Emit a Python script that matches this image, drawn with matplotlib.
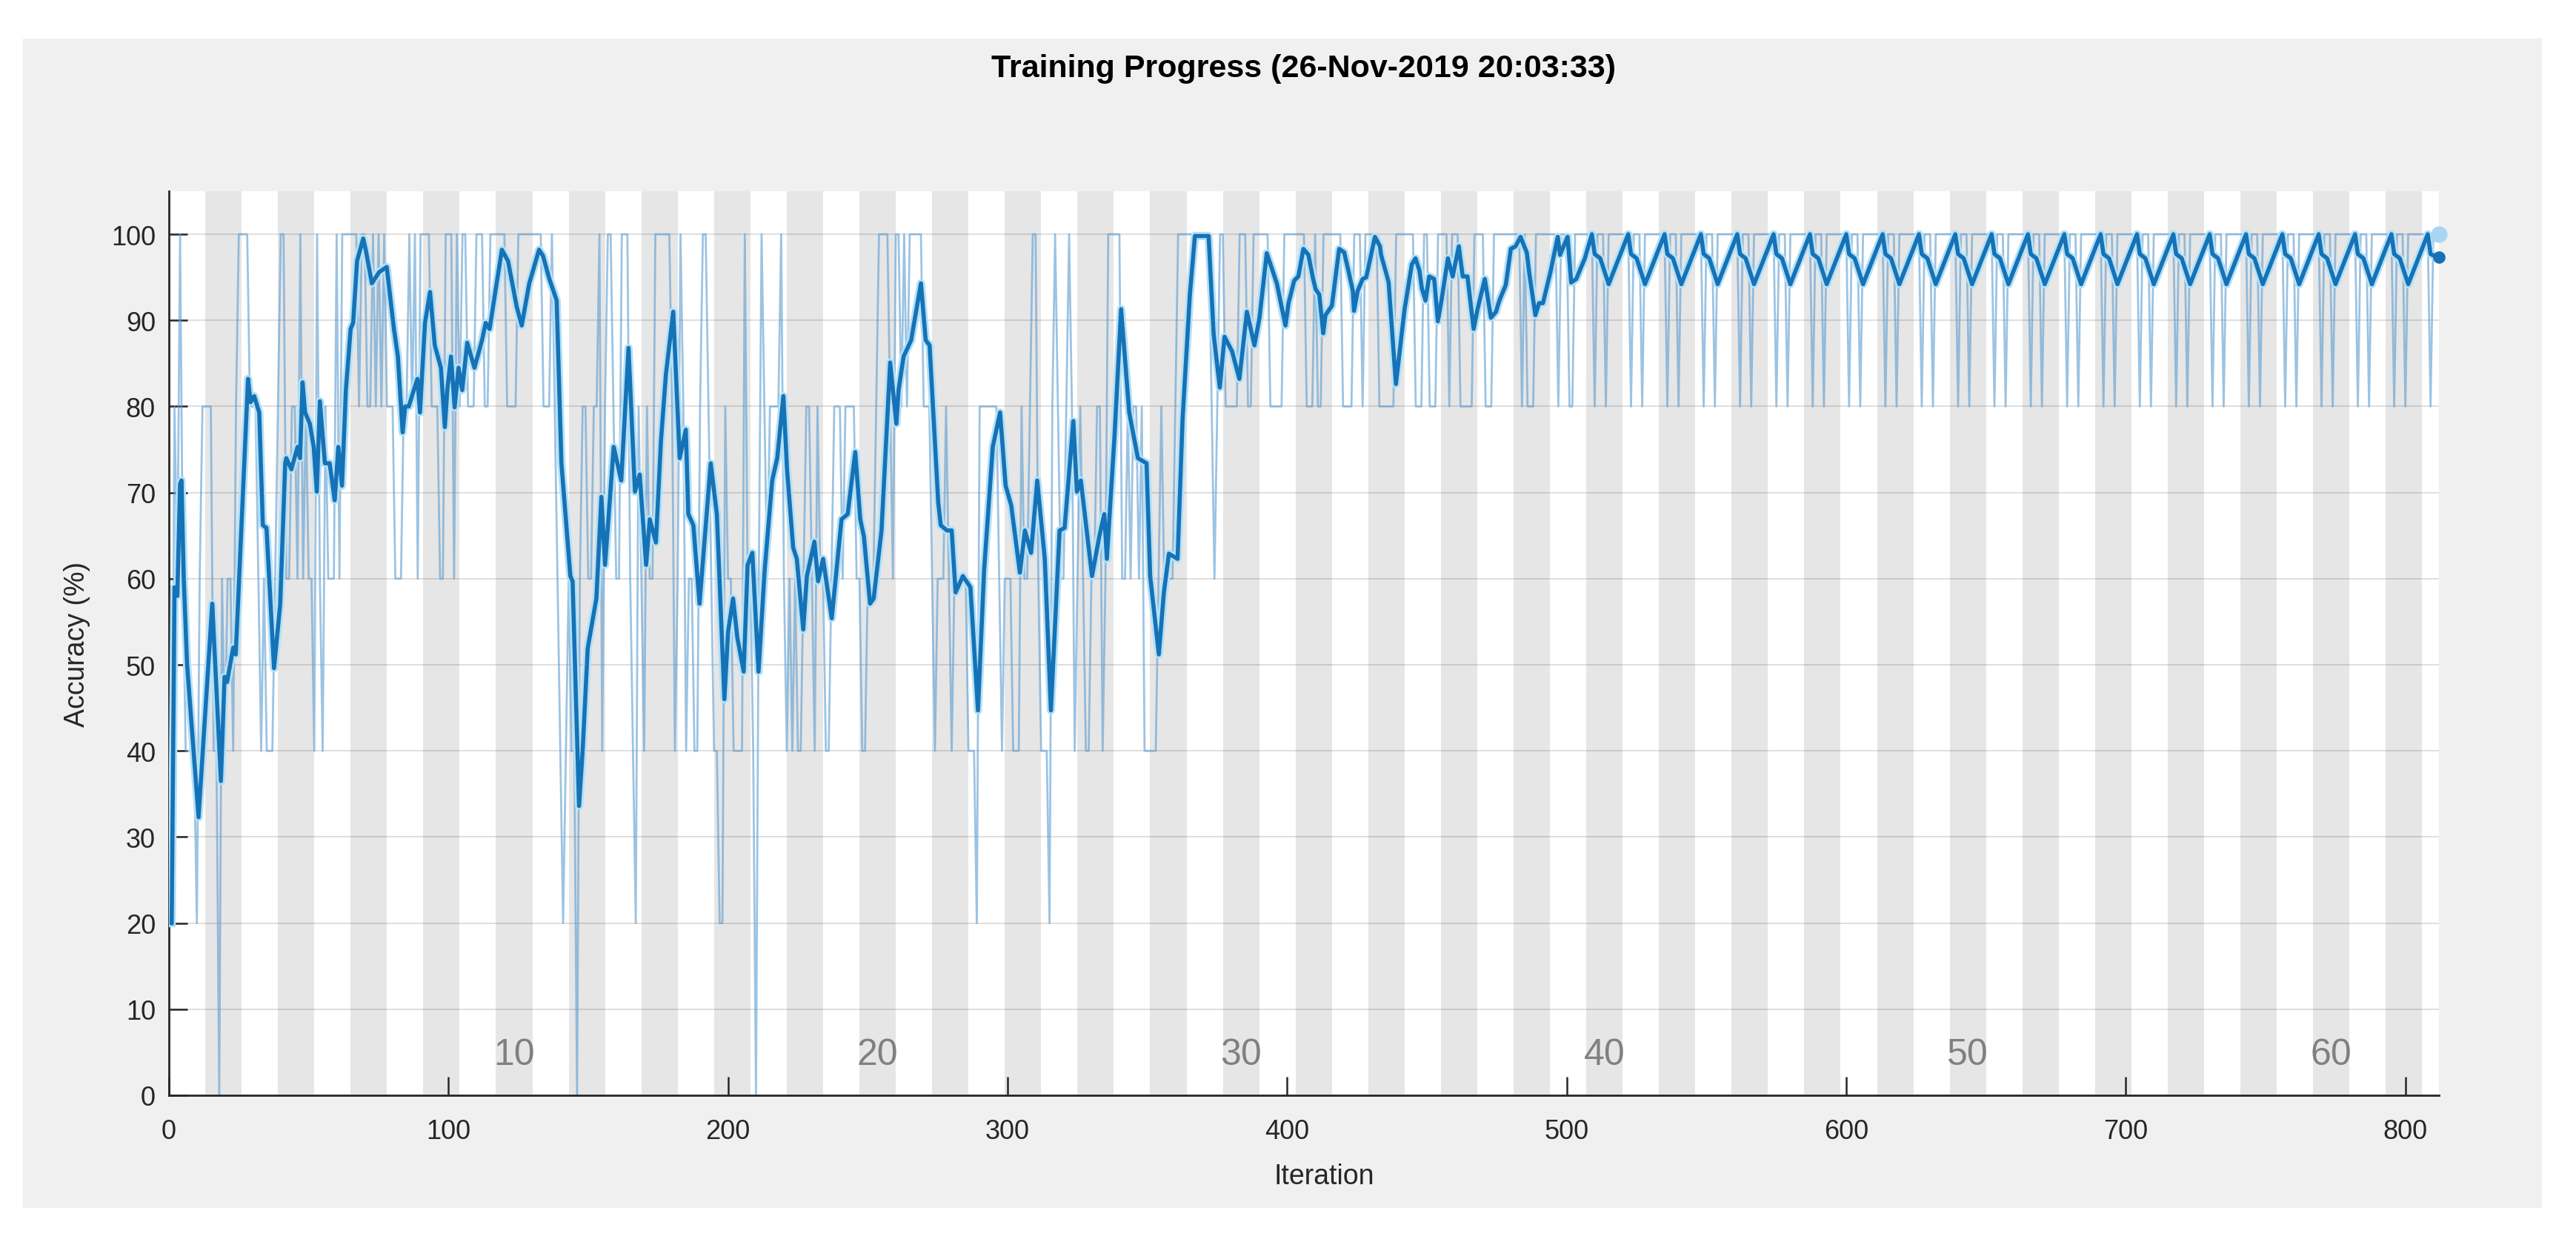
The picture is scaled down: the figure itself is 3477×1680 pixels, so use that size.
import matplotlib
matplotlib.use("Agg")
import matplotlib.pyplot as plt
from matplotlib.patches import Rectangle

# raw mini-batch accuracy, one string per epoch, one digit per iteration (digit*20 = %)
raw_epochs = [
    "1435322221344", "4422032332455", "5544432322234", "5533443534332",
    "5324333535555", "5545544545454", "4433344545355", "5544433555354",
    "5544455544555", "5554444555555", "5554445432123", "2203443344524",
    "5543355532143", "2433555555423", "5423322455432", "2114332222533",
    "2035434444532", "3232234432433", "2234443444433", "2233345555435",
    "5454555554443", "2333432333332", "2214444444323", "3322243345532",
    "2214543345423", "4322334423555", "5533434434222", "2234333345555",
    "5555555543455", "4444455544555", "5554444455555", "5554445445555",
    "5554444555455", "5554444445555", "5554445544455", "5545554444455",
    "5544455555555", "5545444555555", "5545554455555", "5545554555555",
    "5545554555555", "5545554555555", "5545554555555", "5545554555555",
    "5545554555555", "5545554555555", "5545554555555", "5545554555555",
    "5545554555555", "5545554555555", "5545554555555", "5545554555555",
    "5545554555555", "5545554555555", "5545554555555", "5545554555555",
    "5545554555555", "5545554555555", "5545554555555", "5545554555555",
    "5545554555555", "5545554555555", "554555",
]

# smoothed accuracy
smooth_iter = [
    1, 2, 3, 4, 4.5, 5.3, 6.5, 10.6, 15.5, 18.6, 19.9, 20.8, 23, 23.9, 28.3, 29.2,
    30.5, 32.3, 33.6, 34.9, 37.6, 39.8, 41.6, 42, 43.8, 46, 46.9, 47.8, 48.7, 50.4,
    51.8, 52.9, 54, 55.8, 57.5, 59.3, 60.6, 61.9, 63.3, 65, 65.9, 67.3, 69.5, 70.4,
    72.6, 75.2, 77.9, 80.5, 81.9, 83.6, 84.5, 85.8, 87.6, 88.9, 89.8, 91.6, 93.4,
    95.1, 97.3, 98.7, 99.6, 100.9, 102.2, 103.6, 104.9, 106.7, 109.3, 112, 113.3,
    114.7, 116.9, 119.1, 121.3, 124.4, 126.2, 128.9, 132.4, 133.8, 136, 138.7,
    140.4, 143.6, 144.4, 146.7, 148, 149.8, 152.9, 154.7, 156, 159.1, 161.8, 164.4,
    166.7, 168.4, 170.7, 172, 174.2, 176, 177.8, 180.4, 182.7, 184.9, 185.8, 187.6,
    189.8, 193.8, 196, 198.7, 200, 201.8, 203.3, 205.6, 207, 208.7, 210.9, 213.1,
    215.8, 217.6, 219.8, 221.1, 223.3, 224.6, 226.9, 228.2, 230.9, 232.2, 234,
    237.1, 240.6, 242.8, 245.5, 247.3, 248.6, 250.8, 252.1, 254.9, 258, 260.2, 261,
    262.8, 265.5, 269, 270.7, 272.1, 275.2, 276.1, 278.3, 280, 281.4, 284, 286.7,
    289.4, 291.6, 294.7, 297.3, 299.3, 301.3, 304.4, 306.2, 308.4, 310.6, 313.3,
    315.5, 318.6, 320.4, 323.5, 324.8, 326.2, 330.2, 332.8, 334.6, 335.5, 338.2,
    340.6, 343.5, 346.6, 349.7, 351, 354.1, 355.9, 357.7, 360.8, 362.6, 365.2, 367,
    371.9, 373.7, 375.9, 377.6, 380.3, 382.9, 385.6, 388.3, 390.1, 392.7, 396.3,
    399.4, 400.5, 402.5, 404, 405.8, 407.6, 409.3, 410.2, 411.5, 412.9, 413.7, 416,
    418.6, 420.4, 422.1, 423.5, 423.9, 425.2, 427, 428.3, 431.4, 433.2, 433.6,
    435.4, 436.3, 438.9, 442, 444.6, 445.9, 447.3, 448.2, 449.5, 450.8, 452.6,
    453.9, 455.2, 457.5, 459.2, 461.4, 462.8, 464.5, 466.7, 468.1, 470.7, 472.9,
    474.7, 475.6, 476.4, 478.2, 480, 481.7, 483.5, 484.8, 485.7, 486.6, 488.8,
    490.1, 491.5, 494.1, 496.8, 497.6, 500.3, 501.6, 503.4, 506.5,
    509, 510, 512, 515,
    522, 523, 525, 528,
    535, 536, 538, 541,
    548, 549, 551, 554,
    561, 562, 564, 567,
    574, 575, 577, 580,
    587, 588, 590, 593,
    600, 601, 603, 606,
    613, 614, 616, 619,
    626, 627, 629, 632,
    639, 640, 642, 645,
    652, 653, 655, 658,
    665, 666, 668, 671,
    678, 679, 681, 684,
    691, 692, 694, 697,
    704, 705, 707, 710,
    717, 718, 720, 723,
    730, 731, 733, 736,
    743, 744, 746, 749,
    756, 757, 759, 762,
    769, 770, 772, 775,
    782, 783, 785, 788,
    795, 796, 798, 801,
    808, 809, 811, 812,
]
smooth_acc = [
    20, 59, 58, 71, 71.4, 60, 50, 32.3, 57.1, 36.5, 48.6, 48, 52, 51.2, 83.2, 80.5,
    81.2, 79.3, 66.2, 65.9, 49.6, 57, 73.4, 74, 72.7, 75.3, 74, 82.8, 79.3, 78,
    75.3, 70.1, 80.6, 73.4, 73.4, 69.1, 75.3, 70.8, 81.9, 89, 89.7, 96.9, 99.5, 98.2,
    94.3, 95.6, 96.2, 89, 85.8, 77, 80, 80, 81.9, 83.2, 79.3, 89.7, 93.3,
    87.1, 84.5, 77.6, 82, 85.8, 79.9, 84.5, 81.9, 87.4, 84.5, 87.7, 89.7,
    89, 93.6, 98.2, 96.9, 91.6, 89.4, 94.3, 98.2, 97.5, 94.9, 92.3,
    73.4, 60.3, 59.7, 33.6, 40.1, 51.9, 57.7, 69.5, 61.6, 75.3, 71.4, 86.8,
    70.1, 72.1, 61.6, 66.9, 64.2, 76, 83.8, 91, 74, 77.3, 67.5, 66.2,
    57.1, 73.4, 67.5, 46, 53.8, 57.7, 53.2, 49.2, 61.6, 63, 49.2, 61,
    71.4, 74, 81.2, 72.7, 63.6, 62.3, 54.1, 60.3, 64.3, 59.7, 62.3,
    55.4, 66.9, 67.5, 74.7, 66.9, 64.9, 57.1, 57.7, 65.6, 85.1, 78, 81.9,
    85.8, 87.7, 94.3, 87.7, 87.1, 68.8, 66.2, 65.6, 65.6, 58.4, 60.3, 59,
    44.7, 61, 75.3, 79.3, 70.8, 68.5, 60.7, 65.6, 63, 71.4, 62.3,
    44.7, 65.6, 65.9, 78.3, 70.1, 71.4, 60.3, 64.9, 67.5, 62.3, 76.3,
    91.3, 79.3, 74, 73.4, 60.3, 51.2, 58.4, 62.9, 62.3, 78.6, 93, 99.8,
    99.8, 88.4, 82.2, 88.1, 86.4, 83.2, 91, 87.1, 90.3, 97.8, 94.3,
    89.4, 92, 94.6, 95.1, 98.3, 97.6, 94.8, 93.6, 93, 88.5, 90.6, 91.7,
    98.3, 97.9, 95.5, 93.4, 91.1, 93.4, 94.8, 95, 99.7, 98.6, 97.6,
    95.5, 94.4, 82.6, 91.3, 96.5, 97.2, 95.8, 93.7, 92.3, 95.1, 94.8,
    89.9, 92.3, 97.2, 95.1, 98.6, 95.1, 95.1, 89, 91.3, 94.8, 90.3,
    91, 92, 92.7, 94.1, 98.3, 98.6, 99.7, 98.6, 97.9, 95.5, 90.6,
    92, 92, 95.5, 99.7, 97.6, 99.7, 94.4, 94.8, 97.2,
    100, 97.7, 97.2, 94.2,
    100, 97.7, 97.2, 94.2,
    100, 97.7, 97.2, 94.2,
    100, 97.7, 97.2, 94.2,
    100, 97.7, 97.2, 94.2,
    100, 97.7, 97.2, 94.2,
    100, 97.7, 97.2, 94.2,
    100, 97.7, 97.2, 94.2,
    100, 97.7, 97.2, 94.2,
    100, 97.7, 97.2, 94.2,
    100, 97.7, 97.2, 94.2,
    100, 97.7, 97.2, 94.2,
    100, 97.7, 97.2, 94.2,
    100, 97.7, 97.2, 94.2,
    100, 97.7, 97.2, 94.2,
    100, 97.7, 97.2, 94.2,
    100, 97.7, 97.2, 94.2,
    100, 97.7, 97.2, 94.2,
    100, 97.7, 97.2, 94.2,
    100, 97.7, 97.2, 94.2,
    100, 97.7, 97.2, 94.2,
    100, 97.7, 97.2, 94.2,
    100, 97.7, 97.2, 94.2,
    100, 97.7, 97.4, 97.3,
]

iters_per_epoch = 13
epoch_labels = [10, 20, 30, 40, 50, 60]
x_ticks = [0, 100, 200, 300, 400, 500, 600, 700, 800]
y_ticks = [0, 10, 20, 30, 40, 50, 60, 70, 80, 90, 100]
title = "Training Progress (26-Nov-2019 20:03:33)"

# unpack raw digits into iteration / accuracy
raw_acc = []
for ep in raw_epochs:
    for c in ep:
        raw_acc.append(int(c) * 20)
raw_iter = list(range(1, len(raw_acc) + 1))
n_epochs = len(raw_epochs)

plt.rcParams['font.family'] = ['Liberation Sans', 'DejaVu Sans']

W, H = 3477, 1681
fig = plt.figure(figsize=(W / 200, H / 200), dpi=200)
fig.patch.set_facecolor('white')

# grey window panel
fig.patches.append(Rectangle((31 / W, 1 - 1631 / H), (3431 - 31) / W, (1631 - 53) / H,
                             transform=fig.transFigure, facecolor='#f0f0f0',
                             edgecolor='none', zorder=-10))

ax = fig.add_axes([228 / W, (H - 1479) / H, (3292 - 228) / W, (1479 - 259) / H])
ax.set_facecolor('white')

# epoch shading, every second epoch grey
for e in range(2, n_epochs + 1, 2):
    ax.axvspan((e - 1) * iters_per_epoch, e * iters_per_epoch, color='#e6e6e6', lw=0, zorder=0)

ax.plot(raw_iter, raw_acc, color='#5b9bd0', lw=1.0, alpha=0.6, zorder=2)
ax.plot(smooth_iter, smooth_acc, color='#b3e0f7', lw=4.0, zorder=3, solid_joinstyle='round')
ax.plot(smooth_iter, smooth_acc, color='#1572b6', lw=2.0, zorder=4, solid_joinstyle='round')

# end markers
ax.plot(raw_iter[-1], raw_acc[-1], 'o', color='#a9d5f2', ms=7, clip_on=False, zorder=5)
ax.plot(smooth_iter[-1], smooth_acc[-1], 'o', color='#1572b6', ms=5, clip_on=False, zorder=6)

for e in epoch_labels:
    ax.text((e - 0.5) * iters_per_epoch, 4.7, str(e), ha='center', va='center',
            fontsize=18, color='#808080', zorder=3)

ax.set_xlim(0, 812)
ax.set_ylim(0, 105)
ax.set_xticks(x_ticks)
ax.set_yticks(y_ticks)
ax.tick_params(direction='in', length=9, width=0.9, colors='#262626', labelsize=13)
ax.tick_params(axis='x', pad=11)
ax.tick_params(axis='y', pad=6.5)
ax.yaxis.grid(True, color='black', alpha=0.15, lw=0.6)
ax.set_axisbelow(True)

for s in ['top', 'right']:
    ax.spines[s].set_visible(False)
for s in ['left', 'bottom']:
    ax.spines[s].set_color('#262626')
    ax.spines[s].set_linewidth(1.0)

fig.text(0.506, 1 - 93 / H, title, ha='center', va='center', fontsize=15.5,
         fontweight='bold', color='black')
fig.text(104 / W, 1 - 869 / H, "Accuracy (%)", ha='center', va='center',
         rotation=90, fontsize=13.5, color='#262626')
fig.text(1787 / W, 1 - 1588 / H, "Iteration", ha='center', va='center',
         fontsize=13.5, color='#262626')

fig.savefig('out.png', dpi=200)
